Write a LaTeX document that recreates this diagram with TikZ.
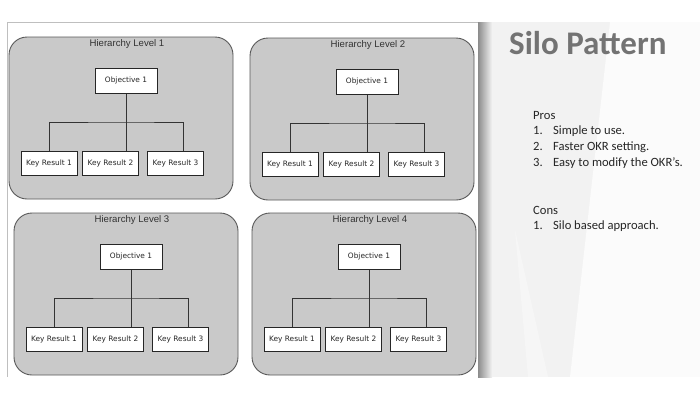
\documentclass[tikz,border=0pt]{standalone}
\usepackage{fontspec}
\setmainfont{Carlito}
\newfontfamily\arialf{Liberation Sans}
\newfontfamily\handf{DejaVu Sans}
\begin{document}
\begin{tikzpicture}[x=1pt,y=-1pt,
  panel/.style={draw=black!65, fill=black!21, rounded corners=18pt, line width=0.9pt},
  krbox/.style={draw=black!85, fill=white, line width=1pt, minimum width=56pt, minimum height=24pt, inner sep=0pt, font=\handf\fontsize{7.4}{8}\selectfont, text=black!85},
  objbox/.style={krbox, minimum width=62pt, minimum height=25pt},
  ttl/.style={font=\arialf\fontsize{9.6}{11}\selectfont, text=black!80, inner sep=0pt},
  conn/.style={draw=black!80, line width=1pt},
  body/.style={anchor=base west, inner sep=0pt, font=\fontsize{12.6}{14}\selectfont, text=black!85}]
\useasboundingbox (0,0) rectangle (700,400);
\fill[white] (0,0) rectangle (700,400);
% left slide frame
\draw[black!25, line width=0.6pt] (478,22) -- (7,22) -- (7,377);
% right panel
\fill[black!5] (478,22) rectangle (700,377);
\fill[white, opacity=0.7] (610,22) -- (700,22) -- (700,377) -- (570,377) -- cycle;
\fill[white, opacity=0.35] (515,230) -- (548,377) -- (528,377) -- cycle;
\shade[left color=black!45, right color=black!5] (478,22) rectangle (492,377);
\foreach \i/\ox/\oy in {1/9/37, 2/250/38, 3/14/213, 4/252/213} {
  \begin{scope}[shift={(\ox,\oy)}]
    \draw[panel] (0,0) rectangle (224,162);
    \node[ttl] (t\i) at (118,7.5) {Hierarchy Level \i};
    \node[objbox] (o\i) at (117,43.5) {Objective 1};
    \node[krbox] (a\i) at (40,126) {Key Result 1};
    \node[krbox] (b\i) at (101.5,126) {Key Result 2};
    \node[krbox] (c\i) at (166.5,126) {Key Result 3};
    \coordinate (m\i) at (117,85);
    \coordinate (e\i) at ([xshift=7.5pt]c\i.north);
    \draw[conn] (o\i.south) -- (o\i.south |- b\i.north);
    \draw[conn] (a\i.north) |- (m\i) -| (e\i);
  \end{scope}
}
% right text
\node[anchor=base west, inner sep=0pt, font=\fontsize{33}{38}\bfseries\selectfont, text=black!55] (title) at (509,54) {Silo Pattern};
\node[body] (pros) at (533,119) {Pros};
\node[body] (p1) at (533,134) {\makebox[20pt][l]{1.}Simple to use.};
\node[body] (p2) at (533,150) {\makebox[20pt][l]{2.}Faster OKR setting.};
\node[body] (p3) at (533,166) {\makebox[20pt][l]{3.}Easy to modify the OKR’s.};
\node[body] (cons) at (533,214) {Cons};
\node[body] (c1) at (533,229) {\makebox[20pt][l]{1.}Silo based approach.};
\end{tikzpicture}
\end{document}
